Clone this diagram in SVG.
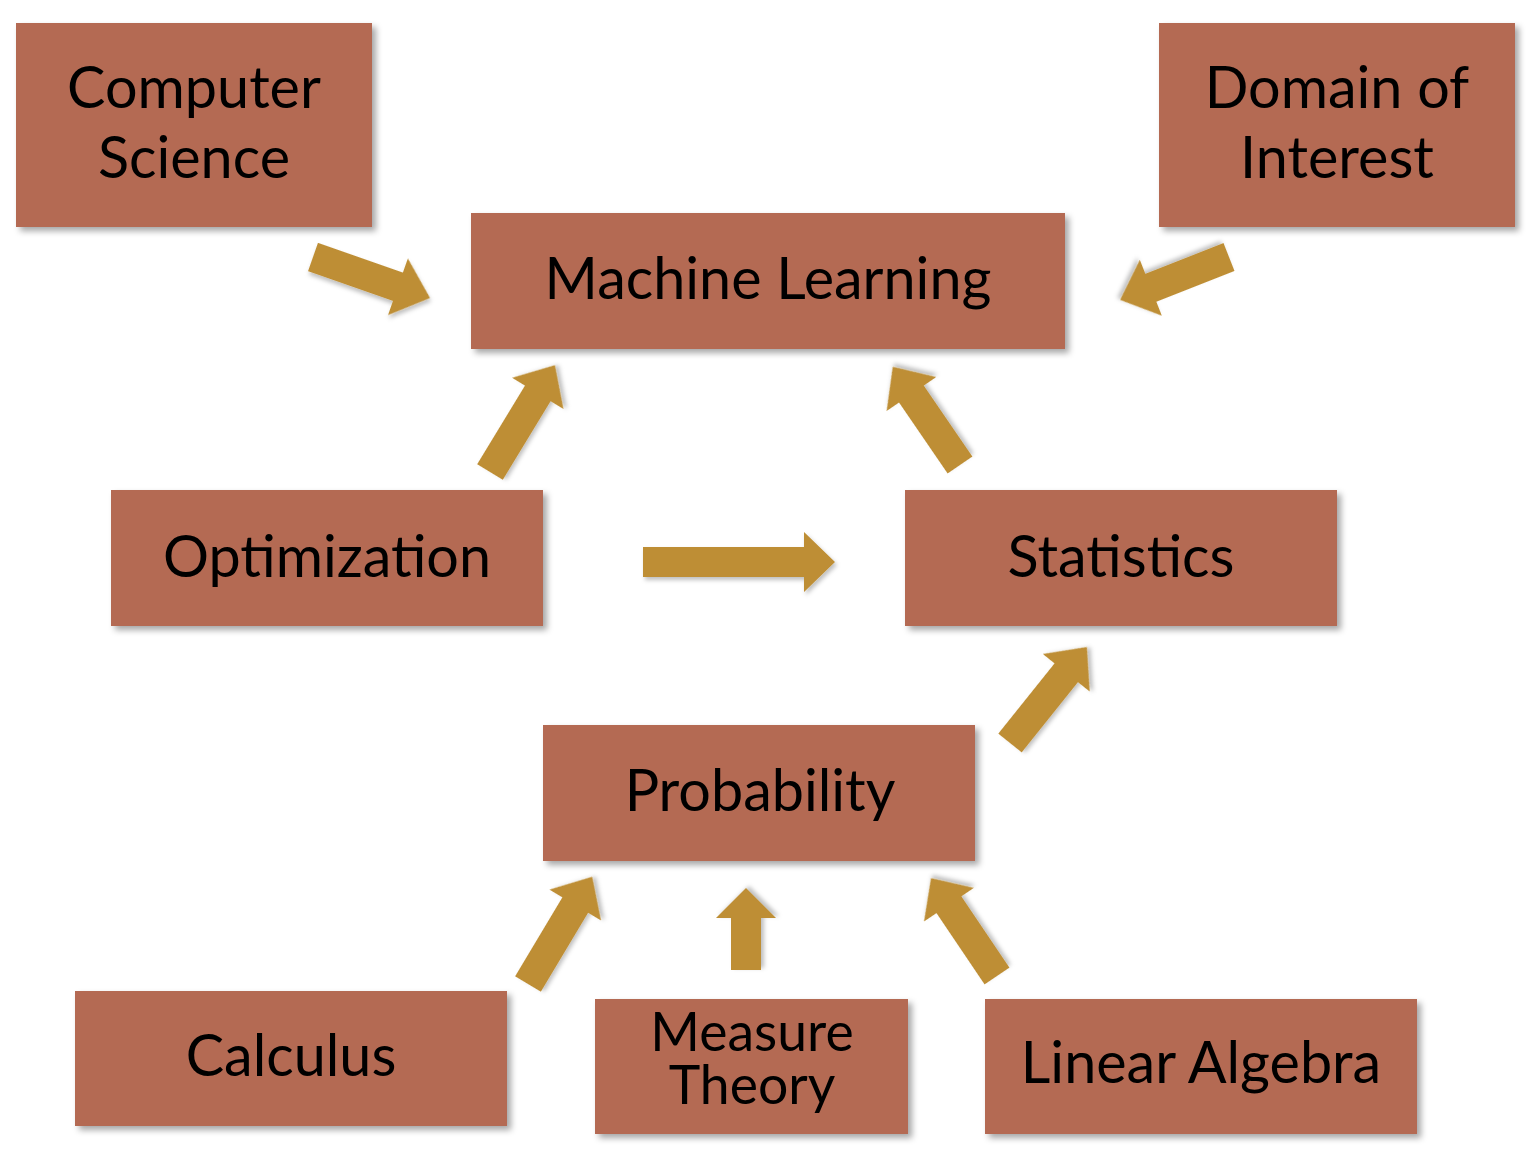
<svg xmlns="http://www.w3.org/2000/svg" width="1528" height="1156" viewBox="0 0 1528 1156">
<defs>
<filter id="sh" x="-10%" y="-10%" width="130%" height="130%">
<feDropShadow dx="4" dy="4" stdDeviation="3" flood-color="#000" flood-opacity="0.35"/>
</filter>
<filter id="sha" x="-20%" y="-20%" width="150%" height="150%">
<feDropShadow dx="2" dy="3" stdDeviation="2" flood-color="#000" flood-opacity="0.25"/>
</filter>
</defs>
<style>
.box{fill:#B46A52;filter:url(#sh)}
.t{font-family:Lato,"Open Sans",sans-serif;font-size:57.5px;fill:#000;text-anchor:middle}
.s{font-size:53.5px}
.arr{fill:#BE8E34;filter:url(#sha)}
</style>
<rect width="1528" height="1156" fill="#fff"/>
<g id="connectors">
<polygon class="arr" points="0,-15 90,-15 90,-30 124,0 90,30 90,15 0,15" transform="translate(313,257) rotate(19.3)"/>
<polygon class="arr" points="0,-15 84,-15 84,-30 117,0 84,30 84,15 0,15" transform="translate(1229,257) rotate(158.5)"/>
<polygon class="arr" points="0,-15 92,-15 92,-30 125,0 92,30 92,15 0,15" transform="translate(490,472) rotate(-58.7)"/>
<polygon class="arr" points="0,-15 86,-15 86,-30 119,0 86,30 86,15 0,15" transform="translate(960,465) rotate(-124.4)"/>
<polygon class="arr" points="0,-15 161,-15 161,-30 192,0 161,30 161,15 0,15" transform="translate(643,562)"/>
<polygon class="arr" points="0,-15 90,-15 90,-30 123,0 90,30 90,15 0,15" transform="translate(1010,743) rotate(-51.3)"/>
<polygon class="arr" points="0,-15 92,-15 92,-30 125,0 92,30 92,15 0,15" transform="translate(528,984) rotate(-59.1)"/>
<polygon class="arr" points="0,-15 52,-15 52,-30 82,0 52,30 52,15 0,15" transform="translate(746,970) rotate(-90)"/>
<polygon class="arr" points="0,-15 86,-15 86,-30 118,0 86,30 86,15 0,15" transform="translate(997,976) rotate(-124)"/>
</g>
<g id="computer-science"><rect class="box" x="16" y="23" width="356" height="204"/><text class="t" x="194" y="108">Computer</text><text class="t" x="194" y="178">Science</text></g>
<g id="domain-of-interest"><rect class="box" x="1159" y="23" width="356" height="204"/><text class="t" x="1337" y="108">Domain of</text><text class="t" x="1337" y="178">Interest</text></g>
<g id="machine-learning"><rect class="box" x="471" y="213" width="594" height="136"/><text class="t" x="768" y="299">Machine Learning</text></g>
<g id="optimization"><rect class="box" x="111" y="490" width="432" height="136"/><text class="t" x="327" y="577">Optimization</text></g>
<g id="statistics"><rect class="box" x="905" y="490" width="432" height="136"/><text class="t" x="1121" y="577">Statistics</text></g>
<g id="probability"><rect class="box" x="543" y="725" width="432" height="136"/><text class="t" x="760" y="811">Probability</text></g>
<g id="calculus"><rect class="box" x="75" y="991" width="432" height="135"/><text class="t" x="291" y="1076">Calculus</text></g>
<g id="measure-theory"><rect class="box" x="595" y="999" width="313" height="135"/><text class="t s" x="752" y="1051">Measure</text><text class="t s" x="752" y="1104">Theory</text></g>
<g id="linear-algebra"><rect class="box" x="985" y="999" width="432" height="135"/><text class="t" x="1201" y="1083">Linear Algebra</text></g>
</svg>
